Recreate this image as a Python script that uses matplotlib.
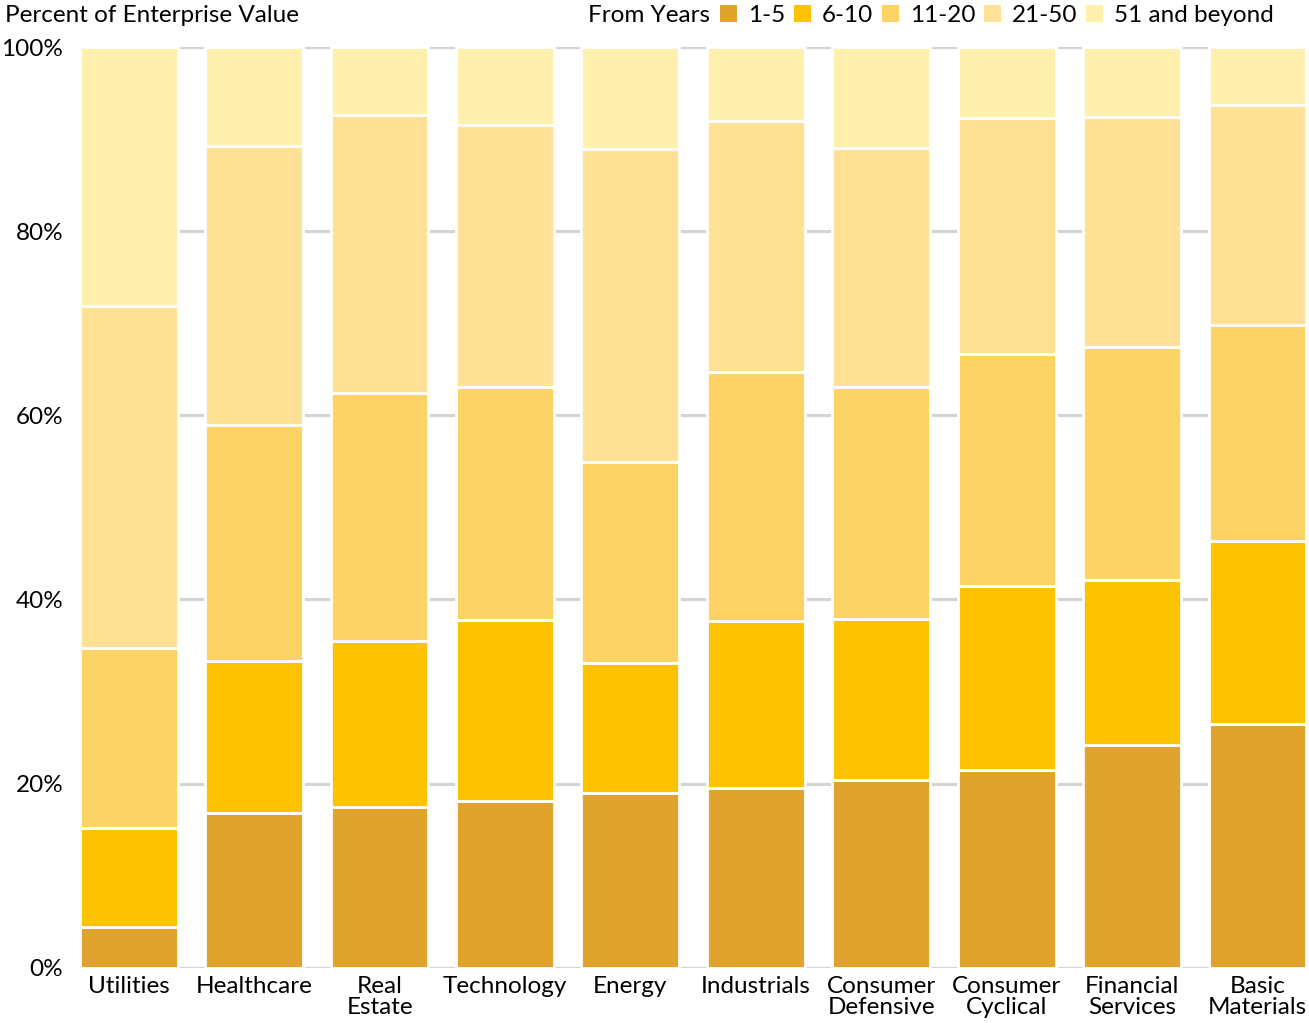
import matplotlib.pyplot as plt
import numpy as np
from matplotlib.patches import Patch

plt.rcParams['font.family'] = ['Lato', 'DejaVu Sans']

sectors = ["Utilities", "Healthcare", "Real\nEstate", "Technology", "Energy",
           "Industrials", "Consumer\nDefensive", "Consumer\nCyclical",
           "Financial\nServices", "Basic\nMaterials"]
series_names = ["1-5", "6-10", "11-20", "21-50", "51 and beyond"]
colors = ["#E0A32E", "#FDC300", "#FED366", "#FEE194", "#FFF0AE"]

# cumulative tops (percent)
top_1_5 = [4.4, 16.8, 17.5, 18.1, 19.0, 19.5, 20.4, 21.5, 24.2, 26.5]
top_6_10 = [15.2, 33.3, 35.5, 37.8, 33.1, 37.7, 37.9, 41.5, 42.1, 46.4]
top_11_20 = [34.7, 59.0, 62.4, 63.1, 54.9, 64.7, 63.1, 66.7, 67.4, 69.8]
top_21_50 = [71.9, 89.3, 92.6, 91.5, 88.9, 92.0, 89.0, 92.3, 92.4, 93.7]
top_51 = [100.0] * 10

tops = [top_1_5, top_6_10, top_11_20, top_21_50, top_51]

fig = plt.figure(figsize=(13.09, 10.23), dpi=100)
ax = fig.add_axes([0.061, 0.054, 0.937, 0.900])

x = np.arange(len(sectors))
bottom = np.zeros(len(sectors))
for name, col, t in zip(series_names, colors, tops):
    t = np.array(t)
    ax.bar(x, t - bottom, bottom=bottom, width=0.78, color=col,
           edgecolor="white", linewidth=2, label=name, zorder=3)
    bottom = t

ax.set_xlim(-0.39, len(sectors) - 0.61)
ax.set_ylim(0, 100)
ax.set_yticks([0, 20, 40, 60, 80, 100])
ax.set_yticklabels(["0%", "20%", "40%", "60%", "80%", "100%"])
ax.set_xticks(x)
ax.set_xticklabels(sectors, linespacing=1.0)
ax.tick_params(length=0, labelsize=17.5, pad=6)
ax.tick_params(axis="y", pad=12)
for s in ax.spines.values():
    s.set_visible(False)
ax.yaxis.grid(True, color="#D3D3D3", linewidth=2.2, zorder=0)
ax.set_axisbelow(True)

fig.text(0.004, 0.985, "Percent of Enterprise Value", fontsize=17.5,
         ha="left", va="center")
fig.text(0.449, 0.985, "From Years", fontsize=17.5, ha="left", va="center")
handles = [Patch(facecolor=c, edgecolor="none") for c in colors]
fig.legend(handles, series_names, loc="center left",
           bbox_to_anchor=(0.541, 0.985), ncol=5, frameon=False,
           fontsize=17.5, handlelength=0.7, handleheight=0.7,
           handletextpad=0.45, columnspacing=0.35, borderpad=0)

fig.savefig("out.png", dpi=100)
